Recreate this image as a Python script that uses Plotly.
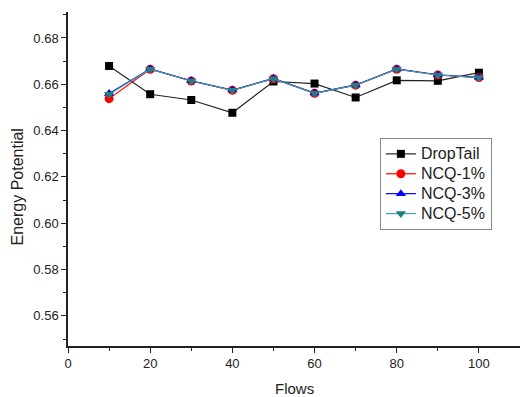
import plotly.graph_objects as go

flows = [10, 20, 30, 40, 50, 60, 70, 80, 90, 100]
droptail = [0.6679, 0.6557, 0.6532, 0.6477, 0.6612, 0.6603, 0.6543, 0.6617, 0.6615, 0.6650]
ncq1 = [0.6538, 0.6665, 0.6614, 0.6574, 0.6624, 0.6561, 0.6596, 0.6665, 0.6640, 0.6629]
ncq3 = [0.6560, 0.6666, 0.6615, 0.6575, 0.6625, 0.6562, 0.6597, 0.6666, 0.6641, 0.6630]
ncq5 = [0.6557, 0.6665, 0.6614, 0.6574, 0.6624, 0.6561, 0.6596, 0.6665, 0.6640, 0.6629]

x_ticks = [0, 20, 40, 60, 80, 100]
y_ticks = [0.56, 0.58, 0.60, 0.62, 0.64, 0.66, 0.68]

series = [
    ("DropTail", droptail, "#222222", "black", "square", 8),
    ("NCQ-1%", ncq1, "red", "red", "circle", 9),
    ("NCQ-3%", ncq3, "blue", "blue", "triangle-up", 9),
    ("NCQ-5%", ncq5, "#3aa6a6", "#1f8080", "triangle-down", 9),
]

fig = go.Figure()
for name, ys, lc, mc, sym, sz in series:
    fig.add_trace(go.Scatter(
        x=flows, y=ys, name='<span style="font-size:16px">' + name + '</span>',
        mode="lines+markers",
        line=dict(color=lc, width=1.2),
        marker=dict(symbol=sym, size=sz, color=mc, line=dict(width=0)),
    ))

font = dict(family="Liberation Sans, Arial, sans-serif", color="#222222")
fig.update_layout(
    width=520, height=397,
    margin=dict(l=68, r=0, t=12, b=51, autoexpand=False),
    paper_bgcolor="white", plot_bgcolor="white",
    font=dict(size=13, **font),
    legend=dict(
        x=0.69, y=0.623, xanchor="left", yanchor="top",
        bordercolor="#888888", borderwidth=1, bgcolor="white",
        font=dict(size=13, **font), tracegroupgap=0,
    ),
    xaxis=dict(
        range=[0, 110], tickvals=x_ticks, showgrid=False, zeroline=False,
        automargin=False,
        showline=True, linecolor="#222222", linewidth=1.5,
        ticks="outside", ticklen=5, tickcolor="#222222",
        minor=dict(ticks="outside", ticklen=3, tick0=10, dtick=20, tickcolor="#222222"),
    ),
    yaxis=dict(
        range=[0.547, 0.6912], tickvals=y_ticks, tickformat=".2f",
        showgrid=False, zeroline=False, automargin=False,
        showline=True, linecolor="#222222", linewidth=1.5,
        ticks="outside", ticklen=5, tickcolor="#222222",
        minor=dict(ticks="outside", ticklen=3, tick0=0.55, dtick=0.02, tickcolor="#222222"),
    ),
    annotations=[
        dict(text="Flows", xref="paper", yref="paper", x=0.502, y=-0.126,
             xanchor="center", yanchor="middle", showarrow=False,
             font=dict(size=15, **font)),
        dict(text="Energy Potential", xref="paper", yref="paper", x=-0.1128, y=0.4746,
             xanchor="center", yanchor="middle", showarrow=False, textangle=-90,
             font=dict(size=16, **font)),
    ],
)

fig.write_html("out.html", post_script="document.body.style.margin='0';",
               config={"displayModeBar": False})
